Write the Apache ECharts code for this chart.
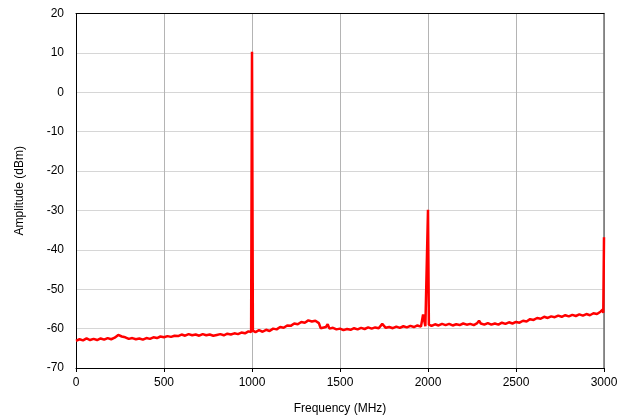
<!DOCTYPE html>
<html>
<head>
<meta charset="utf-8">
<script src="https://cdn.jsdelivr.net/npm/echarts@6/dist/echarts.min.js"></script>
<style>
html,body{margin:0;padding:0;background:#fff;}
#chart{width:618px;height:419px;}
</style>
</head>
<body>
<div id="chart"></div>
<script>
// Spectrum trace: frequency (MHz) and amplitude (dBm)
var traceFreqMHz = [
  0,20,40,60,80,100,120,140,160,180,200,220,240,260,280,300,320,340,360,380,
  400,420,440,460,480,500,520,540,560,580,600,620,640,660,680,700,720,740,760,780,
  800,820,840,860,880,900,920,940,960,980,995,1000,1005,1020,1040,1060,1080,1100,1120,1140,
  1160,1180,1200,1220,1240,1260,1280,1300,1320,1340,1360,1380,1390,1400,1420,1430,1440,1460,1480,1500,
  1520,1540,1560,1580,1600,1620,1640,1660,1680,1700,1720,1740,1760,1780,1800,1820,1840,1860,1880,1900,
  1920,1940,1960,1972,1985,1995,2000,2005,2020,2040,2060,2080,2100,2120,2140,2160,2180,2200,2220,2240,
  2260,2280,2290,2300,2320,2340,2360,2380,2400,2420,2440,2460,2480,2500,2520,2540,2560,2580,2600,2620,
  2640,2660,2680,2700,2720,2740,2760,2780,2800,2820,2840,2860,2880,2900,2920,2940,2960,2980,2992,2996,3000
];
var traceDbm = [
  -63.1,-62.7,-63.0,-62.5,-62.9,-62.6,-62.9,-62.5,-62.8,-62.4,-62.7,-62.3,-61.6,-62.0,-62.2,-62.6,-62.4,-62.7,-62.5,-62.8,
  -62.4,-62.6,-62.2,-62.4,-62.0,-62.2,-61.9,-62.1,-61.8,-61.9,-61.5,-61.8,-61.4,-61.7,-61.5,-61.8,-61.4,-61.7,-61.5,-61.8,
  -61.6,-61.4,-61.7,-61.3,-61.5,-61.2,-61.4,-61.0,-61.2,-60.7,-60.9,10.3,-60.5,-60.9,-60.4,-60.8,-60.3,-60.6,-60.0,-60.2,
  -59.6,-59.8,-59.2,-59.3,-58.7,-58.9,-58.3,-58.5,-57.9,-58.2,-58.0,-58.6,-59.9,-60.1,-59.6,-58.9,-60.0,-59.8,-60.2,-60.0,
  -60.4,-60.1,-60.3,-59.9,-60.2,-59.8,-60.1,-59.7,-60.0,-59.7,-59.9,-58.8,-59.8,-59.6,-59.9,-59.5,-59.8,-59.4,-59.7,-59.3,
  -59.6,-59.2,-59.5,-56.4,-59.4,-59.3,-29.8,-59.0,-59.3,-58.9,-59.2,-58.8,-59.1,-58.8,-59.2,-58.9,-59.1,-58.7,-59.0,-58.8,
  -59.1,-58.6,-58.0,-58.7,-59.0,-58.6,-59.0,-58.7,-59.0,-58.5,-58.8,-58.4,-58.7,-58.3,-58.5,-58.0,-58.2,-57.6,-57.8,-57.3,
  -57.5,-57.0,-57.3,-56.9,-57.1,-56.7,-57.0,-56.6,-56.9,-56.5,-56.8,-56.4,-56.7,-56.3,-56.6,-56.1,-56.3,-55.7,-55.2,-56.0,-36.8
];
var xTicks = { min: 0, max: 3000, step: 500 };
var yTicks = { min: -70, max: 20, step: 10 };

var seriesData = traceFreqMHz.map(function (f, i) { return [f, traceDbm[i]]; });

var font = '"Liberation Sans", Arial, sans-serif';
var plain = function (v) { return String(v); };
var chart = echarts.init(document.getElementById('chart'), null, { renderer: 'canvas' });
chart.setOption({
  animation: false,
  backgroundColor: '#fff',
  grid: { left: 76, right: 14, top: 13.5, bottom: 51, containLabel: false, outerBoundsMode: 'none' },
  xAxis: [{
    type: 'value', min: xTicks.min, max: xTicks.max, interval: xTicks.step,
    name: 'Frequency (MHz)', nameLocation: 'middle', nameGap: 35,
    nameTextStyle: { fontFamily: font, fontSize: 12, color: '#000' },
    axisLine: { show: true, onZero: false, lineStyle: { color: '#000', width: 1 } },
    axisTick: { show: true, inside: false, length: 4, lineStyle: { color: '#000' } },
    axisLabel: { fontFamily: font, fontSize: 12, color: '#000', margin: 9, formatter: plain, hideOverlap: false },
    splitLine: { show: true, lineStyle: { color: '#b4b4b4', width: 1 } }
  }, {
    type: 'value', position: 'top', min: xTicks.min, max: xTicks.max, interval: xTicks.step,
    axisLine: { show: true, onZero: false, lineStyle: { color: '#000', width: 1 } },
    axisTick: { show: false }, axisLabel: { show: false }, splitLine: { show: false }
  }],
  yAxis: [{
    type: 'value', min: yTicks.min, max: yTicks.max, interval: yTicks.step,
    name: 'Amplitude (dBm)', nameLocation: 'middle', nameGap: 50, nameRotate: 90,
    nameTextStyle: { fontFamily: font, fontSize: 12, color: '#000' },
    axisLine: { show: true, onZero: false, lineStyle: { color: '#000', width: 1 } },
    axisTick: { show: false },
    axisLabel: { fontFamily: font, fontSize: 12, color: '#000', margin: 12, formatter: plain },
    splitLine: { show: true, lineStyle: { color: '#d6d6d6', width: 1 } }
  }, {
    type: 'value', position: 'right', min: yTicks.min, max: yTicks.max, interval: yTicks.step,
    axisLine: { show: true, onZero: false, lineStyle: { color: '#707070', width: 1.5 } },
    axisTick: { show: false }, axisLabel: { show: false }, splitLine: { show: false }
  }],
  series: [{
    type: 'line', xAxisIndex: 0, yAxisIndex: 0,
    data: seriesData,
    showSymbol: false, symbol: 'none',
    lineStyle: { color: '#ff0000', width: 2.5 },
    clip: true
  }]
});
</script>
</body>
</html>
